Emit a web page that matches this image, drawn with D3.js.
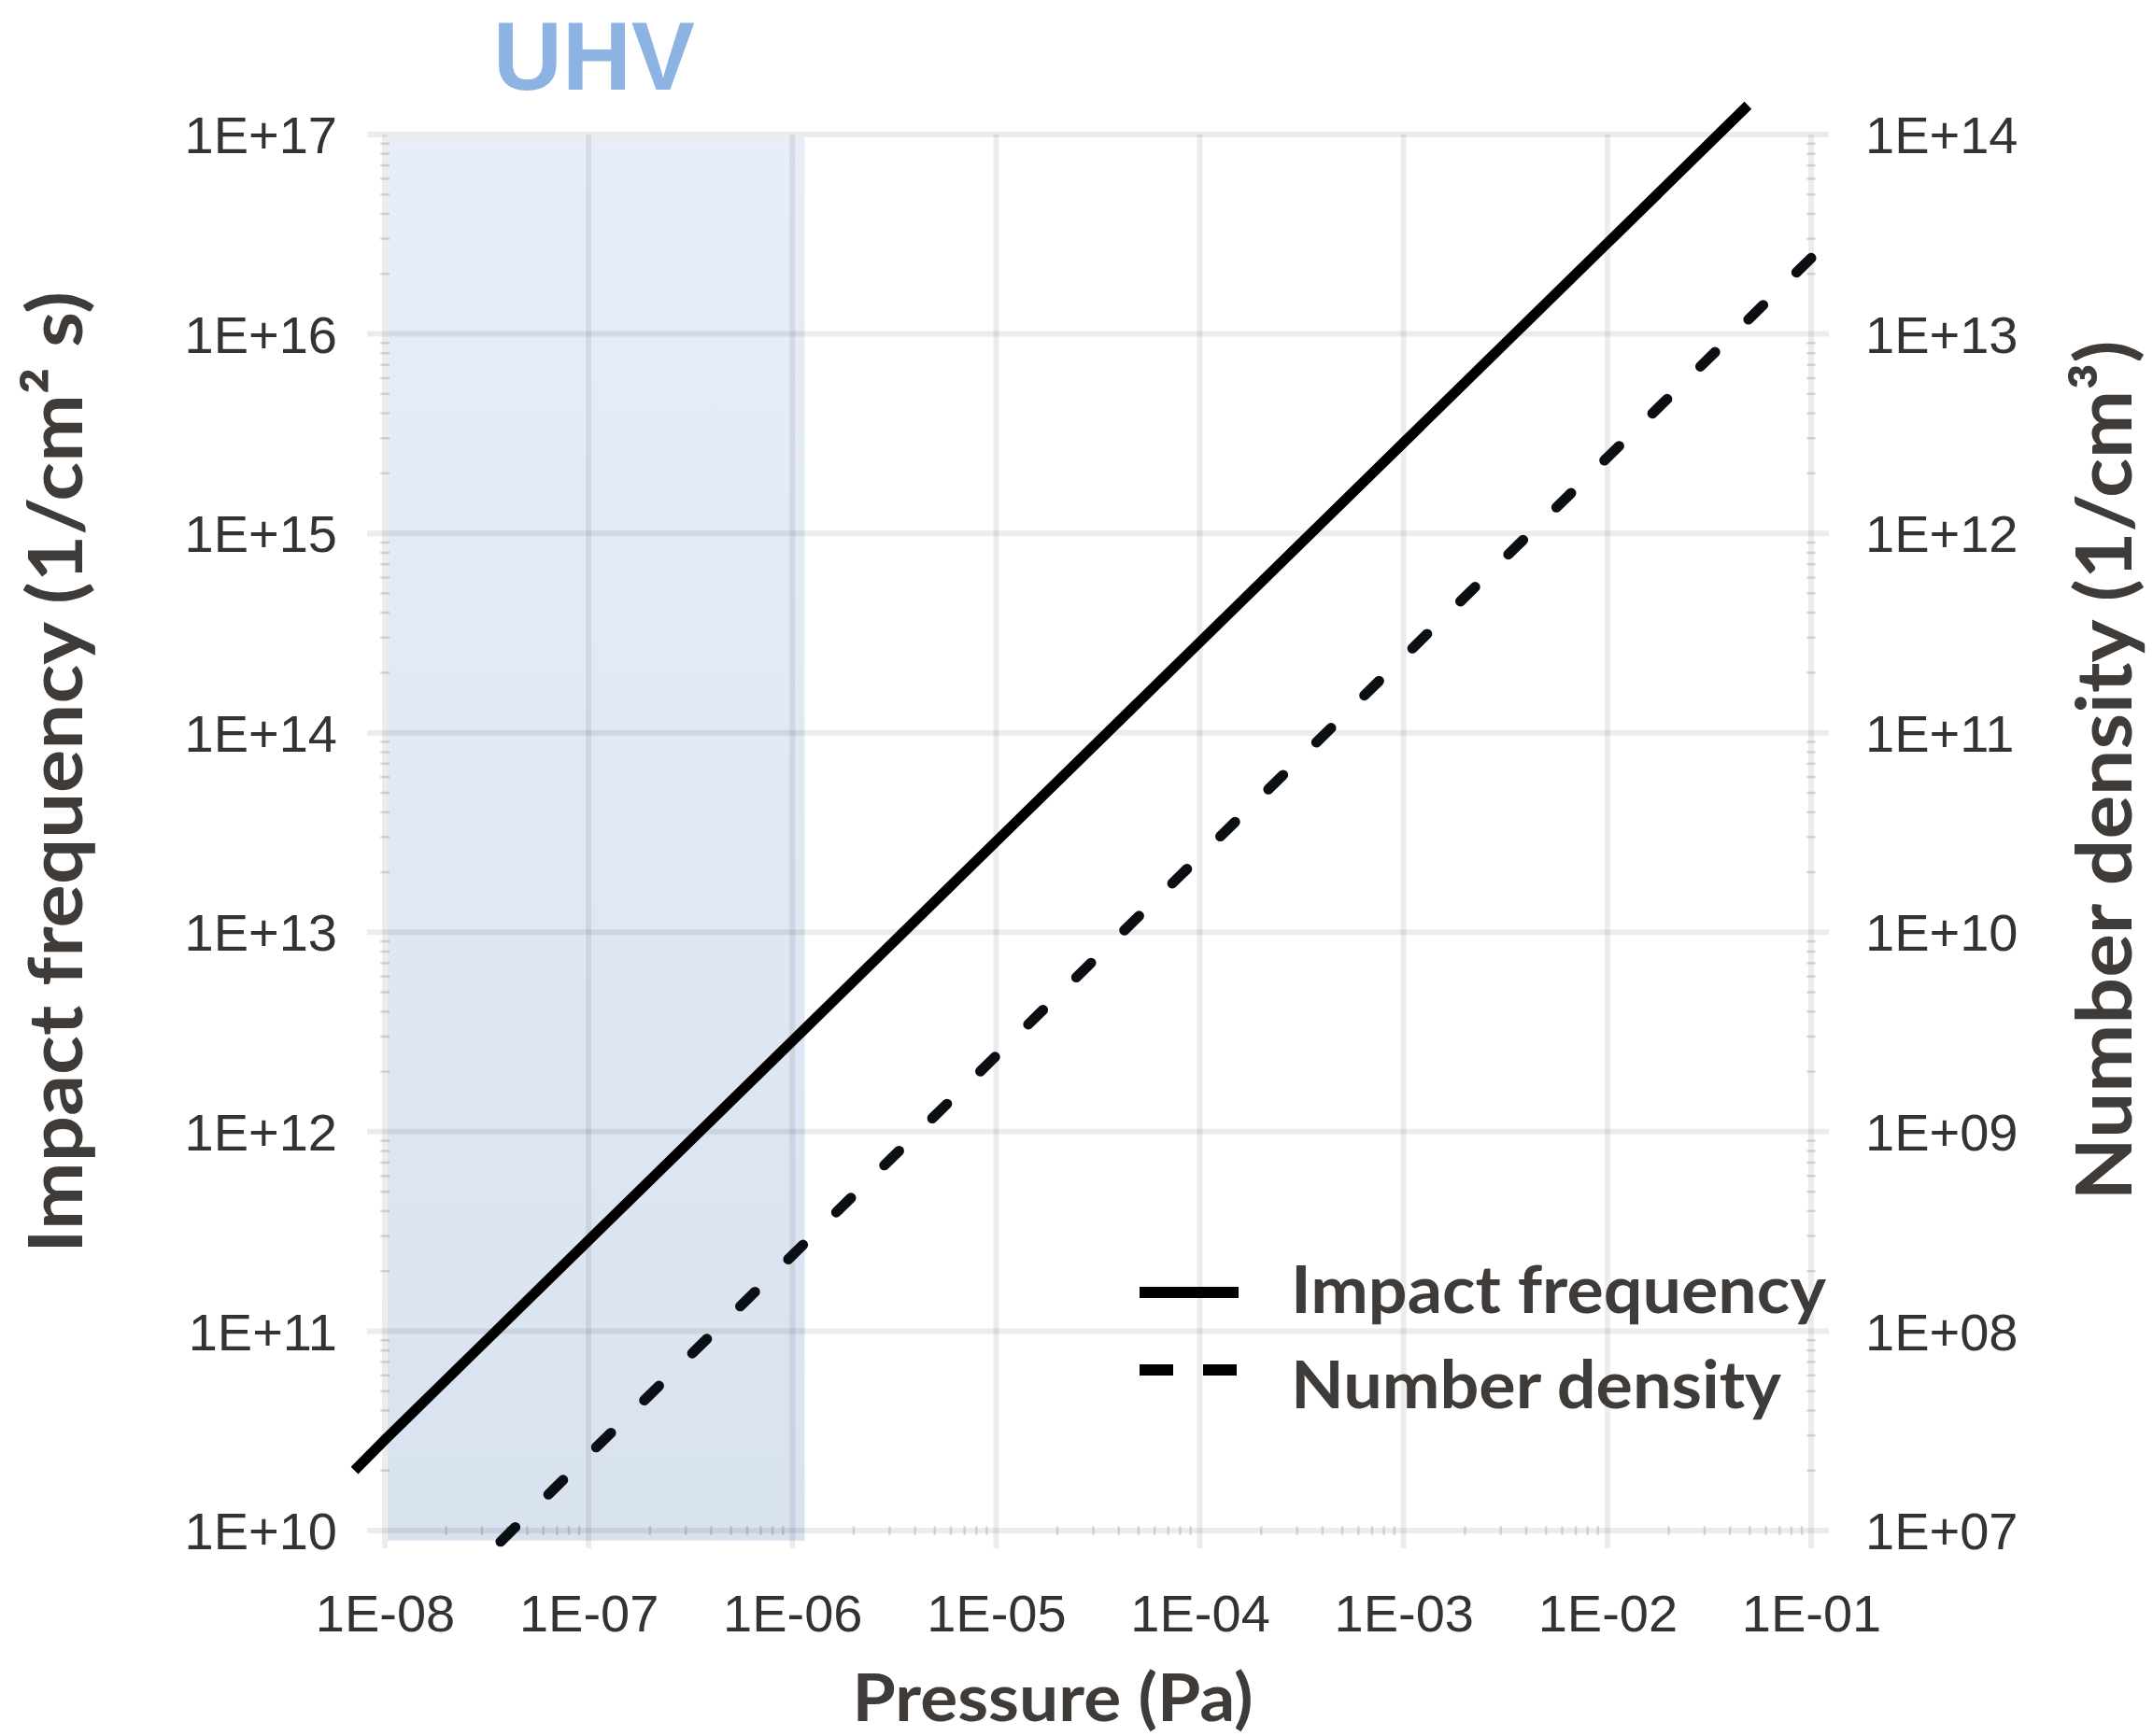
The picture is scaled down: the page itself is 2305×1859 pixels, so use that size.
<!DOCTYPE html>
<html>
<head>
<meta charset="utf-8">
<script src="https://cdn.jsdelivr.net/npm/d3@7/dist/d3.min.js"></script>
<style>
  html, body { margin: 0; padding: 0; background: #fff; }
  svg { display: block; }
</style>
</head>
<body>
<svg id="chart" width="2305" height="1859"></svg>
<script>
// ---------- DATA ----------
const xTickValues = [1e-8, 1e-7, 1e-6, 1e-5, 1e-4, 1e-3, 1e-2, 1e-1];
const xTickLabels = ["1E-08", "1E-07", "1E-06", "1E-05", "1E-04", "1E-03", "1E-02", "1E-01"];
const yLeftTickValues = [1e10, 1e11, 1e12, 1e13, 1e14, 1e15, 1e16, 1e17];
const yLeftTickLabels = ["1E+10", "1E+11", "1E+12", "1E+13", "1E+14", "1E+15", "1E+16", "1E+17"];
const yRightTickValues = [1e7, 1e8, 1e9, 1e10, 1e11, 1e12, 1e13, 1e14];
const yRightTickLabels = ["1E+07", "1E+08", "1E+09", "1E+10", "1E+11", "1E+12", "1E+13", "1E+14"];

// Impact frequency (1/cm^2 s) vs pressure (Pa) — left axis, solid line
const impactPressure = [7.1e-9, 1e-8, 1e-7, 1e-6, 1e-5, 1e-4, 1e-3, 1e-2, 4.9e-2];
const impactValues   = [2.0e10, 2.85e10, 2.85e11, 2.85e12, 2.85e13, 2.85e14, 2.85e15, 2.85e16, 1.4e17];

// Number density (1/cm^3) vs pressure (Pa) — right axis, dashed line
const densityPressure = [3.7e-8, 1e-7, 1e-6, 1e-5, 1e-4, 1e-3, 1e-2, 1e-1];
const densityValues   = [8.8e6, 2.4e7, 2.4e8, 2.4e9, 2.4e10, 2.4e11, 2.4e12, 2.4e13];

// UHV shaded range (pressure) and its vertical extent (left-axis units)
const uhvPressure = [1e-8, 1.15e-6];
const uhvLeftRange = [8.9e9, 1e17];

const seriesNames = ["Impact frequency", "Number density"];

// ---------- LAYOUT ----------
const svg = d3.select("#chart");
const L = 412, R = 1939, T = 144, B = 1639;

const x = d3.scaleLog().domain([1e-8, 1e-1]).range([L, R]);
const yL = d3.scaleLog().domain([1e10, 1e17]).range([B, T]);
const yR = d3.scaleLog().domain([1e7, 1e14]).range([B, T]);

// gradient for UHV region
const defs = svg.append("defs");
const grad = defs.append("linearGradient").attr("id", "uhvGrad")
  .attr("x1", 0).attr("y1", 0).attr("x2", 0).attr("y2", 1);
grad.append("stop").attr("offset", "0%").attr("stop-color", "#e7eef9");
grad.append("stop").attr("offset", "100%").attr("stop-color", "#d9e2ef");

// UHV region
svg.append("rect")
  .attr("x", x(uhvPressure[0]) + 3)
  .attr("y", yL(uhvLeftRange[1]) + 3)
  .attr("width", x(uhvPressure[1]) - x(uhvPressure[0]) - 3)
  .attr("height", yL(uhvLeftRange[0]) - yL(uhvLeftRange[1]) - 3)
  .attr("fill", "url(#uhvGrad)");

// gridlines
const grid = svg.append("g").attr("stroke", "rgba(0,0,0,0.075)").attr("stroke-width", 6);
grid.selectAll("line.h").data(yLeftTickValues).join("line")
  .attr("class", "h")
  .attr("x1", L - 19).attr("x2", R + 19)
  .attr("y1", d => yL(d)).attr("y2", d => yL(d));
grid.selectAll("line.v").data(xTickValues).join("line")
  .attr("class", "v")
  .attr("y1", T).attr("y2", B + 19)
  .attr("x1", d => x(d)).attr("x2", d => x(d));

// minor ticks
const minorX = [];
for (let e = -8; e < -1; e++) for (let k = 2; k <= 9; k++) minorX.push(k * Math.pow(10, e));
const minorYL = [];
for (let e = 10; e < 17; e++) for (let k = 2; k <= 9; k++) minorYL.push(k * Math.pow(10, e));
const minorYR = [];
for (let e = 7; e < 14; e++) for (let k = 2; k <= 9; k++) minorYR.push(k * Math.pow(10, e));
const minor = svg.append("g").attr("stroke", "rgba(0,0,0,0.13)").attr("stroke-width", 2.5);
minor.selectAll("line.mx").data(minorX).join("line").attr("class", "mx")
  .attr("x1", d => x(d)).attr("x2", d => x(d)).attr("y1", B - 5).attr("y2", B + 5);
minor.selectAll("line.ml").data(minorYL).join("line").attr("class", "ml")
  .attr("y1", d => yL(d)).attr("y2", d => yL(d)).attr("x1", L - 5).attr("x2", L + 5);
minor.selectAll("line.mr").data(minorYR).join("line").attr("class", "mr")
  .attr("y1", d => yR(d)).attr("y2", d => yR(d)).attr("x1", R - 5).attr("x2", R + 5);

// lines
const impactData = impactPressure.map((p, i) => [p, impactValues[i]]);
const densityData = densityPressure.map((p, i) => [p, densityValues[i]]);

svg.append("path")
  .datum(impactData)
  .attr("fill", "none")
  .attr("stroke", "#000")
  .attr("stroke-width", 11)
  .attr("d", d3.line().x(d => x(d[0])).y(d => yL(d[1])));

const dashPath = svg.append("path")
  .datum(densityData)
  .attr("fill", "none")
  .attr("stroke", "#0b0f14")
  .attr("stroke-width", 11)
  .attr("stroke-linecap", "round")
  .attr("d", d3.line().x(d => x(d[0])).y(d => yR(d[1])));
// fit the dash pattern so it starts and ends with a dash
{
  const dash = 22, nominalPeriod = 71;
  const len = dashPath.node().getTotalLength();
  const n = Math.max(1, Math.round((len - dash) / nominalPeriod));
  const period = (len - dash) / n;
  dashPath.attr("stroke-dasharray", `${dash},${period - dash}`);
}

// axes (labels only)
const tickFont = "'Liberation Sans', Arial, sans-serif";
function styleAxis(g) {
  g.select(".domain").remove();
  g.selectAll(".tick line").remove();
  g.selectAll(".tick text")
    .attr("fill", "#333")
    .style("font-family", tickFont)
    .style("font-size", "56px");
}
svg.append("g").attr("transform", `translate(0,${B})`)
  .call(d3.axisBottom(x).tickValues(xTickValues)
    .tickFormat((d, i) => xTickLabels[i]).tickSize(0).tickPadding(68))
  .call(styleAxis);
svg.append("g").attr("transform", `translate(${L},0)`)
  .call(d3.axisLeft(yL).tickValues(yLeftTickValues)
    .tickFormat((d, i) => yLeftTickLabels[i]).tickSize(0).tickPadding(51))
  .call(styleAxis)
  .selectAll(".tick text").attr("dy", "0.35em");
svg.append("g").attr("transform", `translate(${R},0)`)
  .call(d3.axisRight(yR).tickValues(yRightTickValues)
    .tickFormat((d, i) => yRightTickLabels[i]).tickSize(0).tickPadding(58))
  .call(styleAxis)
  .selectAll(".tick text").attr("dy", "0.35em");

// titles
const titleFont = "Lato, 'Open Sans', sans-serif";
const titleColor = "#3f3b38";

svg.append("text")
  .attr("transform", "translate(88,827) rotate(-90)")
  .attr("text-anchor", "middle")
  .attr("fill", titleColor)
  .style("font-family", titleFont).style("font-weight", 700).style("font-size", "81px")
  .attr("textLength", 1030).attr("lengthAdjust", "spacingAndGlyphs")
  .text("Impact frequency (1/cm² s)");

svg.append("text")
  .attr("transform", "translate(2282,825) rotate(-90)")
  .attr("text-anchor", "middle")
  .attr("fill", titleColor)
  .style("font-family", titleFont).style("font-weight", 700).style("font-size", "82px")
  .attr("textLength", 921).attr("lengthAdjust", "spacingAndGlyphs")
  .text("Number density (1/cm³)");

svg.append("text")
  .attr("x", 1127).attr("y", 1843)
  .attr("text-anchor", "middle")
  .attr("fill", titleColor)
  .style("font-family", titleFont).style("font-weight", 700).style("font-size", "70px")
  .attr("textLength", 429).attr("lengthAdjust", "spacingAndGlyphs")
  .text("Pressure (Pa)");

svg.append("text")
  .attr("x", 528).attr("y", 96)
  .attr("fill", "#8db3e2")
  .style("font-family", "'Liberation Sans', Arial, sans-serif").style("font-weight", 700).style("font-size", "104px")
  .attr("textLength", 216).attr("lengthAdjust", "spacingAndGlyphs")
  .text("UHV");

// legend
const legendRows = [
  { name: seriesNames[0], dash: null, y: 1384, textY: 1406, len: 573 },
  { name: seriesNames[1], dash: "36,32", y: 1467, textY: 1508, len: 525 }
];
const lg = svg.append("g");
legendRows.forEach(r => {
  lg.append("line")
    .attr("x1", 1220).attr("x2", 1326).attr("y1", r.y).attr("y2", r.y)
    .attr("stroke", "#000").attr("stroke-width", 12)
    .attr("stroke-dasharray", r.dash);
  lg.append("text")
    .attr("x", 1382).attr("y", r.textY)
    .attr("fill", titleColor)
    .style("font-family", titleFont).style("font-weight", 700).style("font-size", "71px")
    .attr("textLength", r.len).attr("lengthAdjust", "spacingAndGlyphs")
    .text(r.name);
});
</script>
</body>
</html>
